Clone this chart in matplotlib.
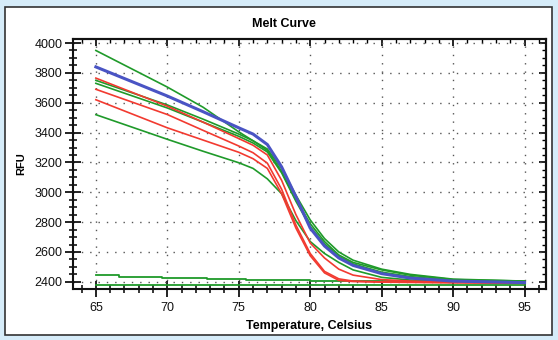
import matplotlib
matplotlib.use("Agg")
import matplotlib.pyplot as plt
from matplotlib.patches import Rectangle
from matplotlib.ticker import MultipleLocator

plt.rcParams['font.family'] = ['Liberation Sans', 'DejaVu Sans']

# temperature grid the curves were read at (deg C)
temps = [65, 70, 72.5, 75, 76, 77, 78, 79, 80, 81, 82, 83, 85, 87, 90, 95]

# melt curves, RFU
green_curves = [
    [3950, 3705, 3570, 3405, 3345, 3280, 3140, 2950, 2790, 2670, 2580, 2530, 2480, 2445, 2415, 2405],
    [3750, 3585, 3490, 3390, 3345, 3290, 3160, 2980, 2815, 2690, 2600, 2545, 2485, 2450, 2418, 2405],
    [3730, 3565, 3470, 3375, 3330, 3270, 3130, 2940, 2770, 2655, 2570, 2520, 2465, 2435, 2410, 2400],
    [3520, 3355, 3275, 3198, 3160, 3090, 2990, 2810, 2670, 2590, 2530, 2480, 2430, 2412, 2402, 2398],
]
red_curves = [
    [3765, 3577, 3470, 3360, 3315, 3250, 3080, 2850, 2660, 2560, 2485, 2445, 2415, 2405, 2400, 2395],
    [3690, 3521, 3415, 3310, 3265, 3195, 3020, 2780, 2590, 2470, 2420, 2405, 2400, 2398, 2395, 2392],
    [3620, 3432, 3350, 3268, 3225, 3160, 2990, 2760, 2575, 2460, 2410, 2402, 2398, 2396, 2394, 2390],
]
blue_curve = [3840, 3645, 3540, 3432, 3390, 3320, 3170, 2970, 2760, 2640, 2560, 2510, 2455, 2425, 2405, 2395]

# flat (no template) traces
flat_temps = [65, 66.6, 69.6, 72.8, 75.5, 80, 85, 90, 95]
flat_upper = [2443, 2432, 2424, 2417, 2412, 2407, 2403, 2400, 2400]
flat_lower = [2378, 2378, 2378, 2378, 2378, 2379, 2380, 2380, 2381]

x_ticks = [65, 70, 75, 80, 85, 90, 95]
y_ticks = [2400, 2600, 2800, 3000, 3200, 3400, 3600, 3800, 4000]

GREEN = '#1f9a2a'
RED = '#f23a30'
BLUE = '#4a54c4'

fig = plt.figure(figsize=(5.58, 3.4), dpi=100)
fig.patch.set_facecolor('#d6ecf9')
# white panel with dark border, behind the axes
panel = Rectangle((5 / 558, 5 / 340), 547 / 558, 328 / 340,
                  transform=fig.transFigure, facecolor='white',
                  edgecolor='#333333', linewidth=1.2, zorder=-10)
fig.add_artist(panel)

ax = fig.add_axes([73 / 558, 51 / 340, 473 / 558, 250 / 340])
ax.set_zorder(5)
ax.set_facecolor('white')

ax.plot(flat_temps, flat_lower, color=GREEN, lw=1.3, drawstyle='steps-post')
ax.plot(flat_temps, flat_upper, color=GREEN, lw=1.3, drawstyle='steps-post')
for c in green_curves:
    ax.plot(temps, c, color=GREEN, lw=1.2)
for c in red_curves:
    ax.plot(temps, c, color=RED, lw=1.2)
ax.plot(temps, blue_curve, color=BLUE, lw=2.2)

ax.set_xlim(63.4, 96.5)
ax.set_ylim(2352, 4027)
ax.set_xticks(x_ticks)
ax.set_yticks(y_ticks)
ax.xaxis.set_minor_locator(MultipleLocator(1))
ax.yaxis.set_minor_locator(MultipleLocator(50))
ax.tick_params(which='major', direction='inout', length=11, width=1.3,
               labelsize=9, colors='#111111')
ax.tick_params(which='minor', direction='inout', length=6, width=1.1)
ax.tick_params(axis='x', pad=4)
ax.tick_params(axis='y', pad=2)

# inward ticks on top and right
top = ax.secondary_xaxis('top')
top.set_xticks(x_ticks)
top.xaxis.set_minor_locator(MultipleLocator(1))
top.tick_params(which='major', direction='in', length=5, width=1.2, labeltop=False)
top.tick_params(which='minor', direction='in', length=3, width=1.0)
right = ax.secondary_yaxis('right')
right.set_yticks(y_ticks)
right.yaxis.set_minor_locator(MultipleLocator(50))
right.tick_params(which='major', direction='in', length=5, width=1.2, labelright=False)
right.tick_params(which='minor', direction='in', length=3, width=1.0)

for s in ax.spines.values():
    s.set_linewidth(1.5)
    s.set_color('#111111')
top.spines['top'].set_linewidth(1.5)
right.spines['right'].set_linewidth(1.5)

ax.grid(True, which='major', color='#555555', linestyle=(0, (1, 5)), linewidth=1.0)

fig.text(284 / 558, 1 - 24 / 340, 'Melt Curve', ha='center', va='center',
         fontsize=9, fontweight='bold')
ax.set_xlabel('Temperature, Celsius', fontsize=9, fontweight='bold', labelpad=4)
ax.set_ylabel('RFU', fontsize=8, fontweight='bold', labelpad=6)

fig.savefig('out.png', dpi=100, facecolor=fig.get_facecolor())
